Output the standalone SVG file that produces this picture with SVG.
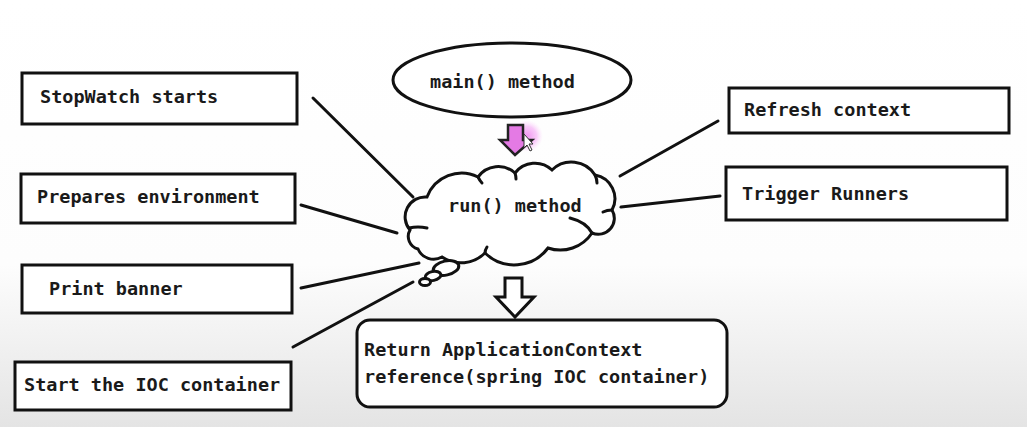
<svg xmlns="http://www.w3.org/2000/svg" width="1027" height="427" viewBox="0 0 1027 427">
<defs>
<linearGradient id="bg" x1="0" y1="0" x2="0" y2="1">
<stop offset="0" stop-color="#ffffff"/>
<stop offset="0.62" stop-color="#fdfdfd"/>
<stop offset="1" stop-color="#e4e4e4"/>
</linearGradient>
<radialGradient id="glow">
<stop offset="0" stop-color="#f08ef0" stop-opacity="0.95"/>
<stop offset="0.6" stop-color="#f5a8f5" stop-opacity="0.6"/>
<stop offset="1" stop-color="#fbd6fb" stop-opacity="0"/>
</radialGradient>
</defs>
<style>
.box{fill:#fff;stroke:#111;stroke-width:3}
.shape{fill:#fff;stroke:#111;stroke-width:3}
.t{font-family:"DejaVu Sans Mono","Liberation Mono",monospace;font-size:18.5px;font-weight:bold;fill:#1a1a1a}
.ln{stroke:#111;stroke-width:3;fill:none;stroke-linecap:round}
</style>
<rect x="0" y="0" width="1027" height="427" fill="url(#bg)"/>

<g id="connectors">
<line class="ln" x1="313" y1="98" x2="413" y2="197"/>
<line class="ln" x1="301" y1="205" x2="397" y2="233"/>
<line class="ln" x1="301" y1="288" x2="419" y2="263"/>
<line class="ln" x1="293" y1="347" x2="413" y2="282"/>
<line class="ln" x1="620" y1="176" x2="718" y2="121"/>
<line class="ln" x1="621" y1="207" x2="720" y2="196"/>
<g id="arrow-main-run">
<circle cx="527" cy="136" r="16" fill="url(#glow)"/>
<path d="M508 125 H523 V140 H532 L515 155 L500 140 H508 Z" fill="#e47ae4" stroke="#222" stroke-width="2.5" stroke-linejoin="miter"/>
<path d="M524 134 L524 148 L527 145 L530 151 L532 150 L529 144 L533 144 Z" fill="#fff" stroke="#333" stroke-width="1"/>
</g>
<g id="arrow-run-return">
<path d="M505 278 H522 V297 H534 L515 317 L496 297 H505 Z" fill="#fff" stroke="#111" stroke-width="3" stroke-linejoin="miter"/>
</g>
</g>

<g id="node-main">
<ellipse class="shape" cx="512" cy="80" rx="119" ry="37"/>
<text class="t" x="430" y="88">main() method</text>
</g>

<g id="node-run">
<path class="shape" d="M410 230 A20 20 0 0 1 427 197 A37 37 0 0 1 478 177 A25 25 0 0 1 515 173 A25 25 0 0 1 552 170 A28 28 0 0 1 595 175 A24 24 0 0 1 612 210 A16 16 0 0 1 592 233 A38 38 0 0 1 548 248 A42 42 0 0 1 485 253 A34 34 0 0 1 442 257 A17 17 0 0 1 418 249 A13 13 0 0 1 410 230 Z"/>
<path class="ln" d="M570 218 Q586 222 592 233"/>
<path class="ln" d="M409 228 Q418 226 427 228"/>
<path class="ln" d="M478 177 Q480 181 482 183"/>
<path class="ln" d="M515 173 Q516 176 516 179"/>
<path class="ln" d="M595 175 Q597 179 597 183"/>
<path class="ln" d="M612 210 Q607 210 603 212"/>
<path class="ln" d="M485 253 Q485 250 487 247"/>
<ellipse class="shape" cx="446" cy="268" rx="13" ry="7" transform="rotate(-12 446 268)"/>
<ellipse class="shape" cx="433" cy="276" rx="8" ry="4.5" transform="rotate(-12 433 276)"/>
<ellipse class="shape" cx="425" cy="282" rx="5.5" ry="3.5"/>
<text class="t" x="448" y="212">run() method</text>
</g>

<g id="node-stopwatch">
<rect class="box" x="22" y="73" width="275" height="51"/>
<text class="t" x="40" y="103">StopWatch starts</text>
</g>
<g id="node-prepares">
<rect class="box" x="21" y="174" width="274" height="49"/>
<text class="t" x="37" y="203">Prepares environment</text>
</g>
<g id="node-banner">
<rect class="box" x="22" y="265" width="270" height="48"/>
<text class="t" x="49" y="295">Print banner</text>
</g>
<g id="node-ioc">
<rect class="box" x="15" y="362" width="276" height="48"/>
<text class="t" x="24" y="391">Start the IOC container</text>
</g>
<g id="node-refresh">
<rect class="box" x="729" y="88" width="280" height="45"/>
<text class="t" x="744" y="116">Refresh context</text>
</g>
<g id="node-trigger">
<rect class="box" x="726" y="167" width="281" height="53"/>
<text class="t" x="742" y="200">Trigger Runners</text>
</g>
<g id="node-return">
<rect class="box" x="357" y="320" width="370" height="87" rx="13"/>
<text class="t" x="364" y="356">Return ApplicationContext</text>
<text class="t" x="364" y="383">reference(spring IOC container)</text>
</g>
</svg>
